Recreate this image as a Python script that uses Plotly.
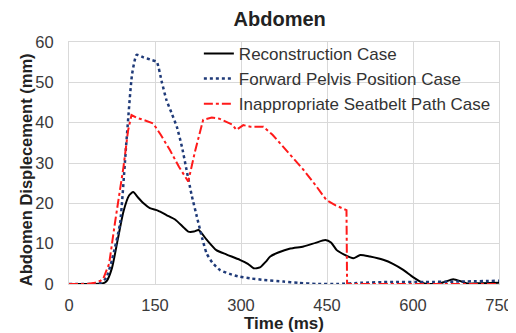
import plotly.graph_objects as go

# Reconstruction Case
recon_t = [0, 40, 60, 66, 75, 85, 95, 105, 112, 120, 130, 141, 155, 170, 185, 200, 208, 218, 226, 240, 257, 275, 298, 312, 322, 333, 343, 351, 365, 386, 409, 430, 447, 457, 467, 480, 496, 508, 525, 548, 565, 583, 600, 618, 642, 655, 670, 685, 695, 720, 750]
recon_y = [0, 0, 0.2, 0.8, 4, 11, 18, 22, 22.8, 21.5, 20, 18.8, 18.2, 17.1, 16, 14, 13.0, 13.0, 13.4, 11, 8.4, 7.3, 6.0, 5.0, 3.9, 4.1, 5.5, 6.8, 7.8, 8.8, 9.3, 10.2, 10.9, 10.3, 8.4, 7.3, 6.4, 7.2, 6.8, 6.0, 5.0, 3.5, 1.7, 0.2, 0, 0.5, 1.2, 0.6, 0.1, 0.2, 0.3]

# Forward Pelvis Position Case
fwd_t = [0, 40, 55, 65, 75, 89, 100, 110, 118, 130, 145, 153, 162, 170, 180, 188, 197, 205, 214, 223, 232, 240, 250, 263, 280, 298, 316, 340, 374, 400, 432, 470, 510, 560, 620, 680, 750]
fwd_y = [0, 0, 0.3, 1.5, 6, 15, 35, 52, 56.8, 56.2, 55.5, 55.1, 50, 45.6, 42, 39, 34, 28.3, 22, 16.7, 11.5, 7.6, 5.3, 3.5, 2.5, 1.8, 1.4, 1.0, 0.6, 0.3, 0, 0, 0.3, 0.5, 0.5, 0.6, 0.8]

# Inappropriate Seatbelt Path Case
seat_t = [0, 30, 45, 55, 60, 70, 80, 95, 103, 109, 118, 130, 147, 160, 176, 192, 208, 220, 234, 249, 262, 275, 285, 292, 304, 316, 339, 355, 374, 392, 409, 430, 449, 465, 484, 485, 500, 750]
seat_y = [0, 0, 0.3, 0.8, 1.4, 5, 15, 29, 38, 41.9, 41.2, 40.7, 39.8, 37, 33.2, 29, 25.4, 33, 40.7, 41.3, 41.0, 40.2, 39.5, 38.2, 39.4, 39.0, 39.0, 37, 34.0, 31, 28.3, 24.5, 20.8, 19.5, 18.3, 0, 0, 0]

x_ticks = [0, 150, 300, 450, 600, 750]
y_ticks = [0, 10, 20, 30, 40, 50, 60]

fig = go.Figure()
fig.add_trace(go.Scatter(x=recon_t, y=recon_y, mode="lines", name="Reconstruction Case",
                         line=dict(color="#000000", width=2, shape="spline", smoothing=0.6)))
fig.add_trace(go.Scatter(x=fwd_t, y=fwd_y, mode="lines", name="Forward Pelvis Position Case",
                         line=dict(color="#1f3a78", width=2.5, dash="dot", shape="spline", smoothing=0.5)))
fig.add_trace(go.Scatter(x=seat_t, y=seat_y, mode="lines", name="Inappropriate Seatbelt Path Case",
                         line=dict(color="#ff1a1a", width=2, dash="dashdot")))

font_family = "Liberation Sans, Arial, sans-serif"
fig.update_layout(
    width=516, height=333,
    margin=dict(l=61, r=25, t=34, b=57, autoexpand=False),
    paper_bgcolor="white", plot_bgcolor="white",
    font=dict(family=font_family, size=17, color="#333333"),
    title=dict(text="<b>Abdomen</b>", x=0.49, xref="paper", xanchor="center", y=0.967, yanchor="middle",
               automargin=False, font=dict(size=20, color="#222222")),
    showlegend=True,
    legend=dict(x=0.302, y=1.025, xanchor="left", yanchor="top", bgcolor="rgba(0,0,0,0)",
                font=dict(size=17, color="#333333"), itemwidth=30, tracegroupgap=0),
    xaxis=dict(range=[0, 750], tickvals=x_ticks, showgrid=True, gridcolor="#d9d9d9", gridwidth=1,
               zeroline=False, showline=True, linecolor="#d9d9d9", mirror=True, ticks="", automargin=False,
               ticklabelstandoff=6, tickfont=dict(size=16.5, color="#3a3a3a")),
    yaxis=dict(range=[0, 60], tickvals=y_ticks, showgrid=True, gridcolor="#d9d9d9", gridwidth=1,
               zeroline=False, showline=True, linecolor="#d9d9d9", mirror=True, ticks="", automargin=False,
               ticklabelstandoff=11, tickfont=dict(size=16.5, color="#3a3a3a")),
    annotations=[
        dict(text="<b>Time (ms)</b>", xref="paper", yref="paper", x=0.5, y=-0.162,
             xanchor="center", yanchor="middle", showarrow=False, font=dict(size=17, color="#222222")),
        dict(text="<b>Abdomen Displecement (mm)</b>", xref="paper", yref="paper", x=-0.1, y=0.47,
             xanchor="center", yanchor="middle", textangle=-90, showarrow=False,
             font=dict(size=16.5, color="#222222")),
    ],
)

fig.write_html("out.html")
